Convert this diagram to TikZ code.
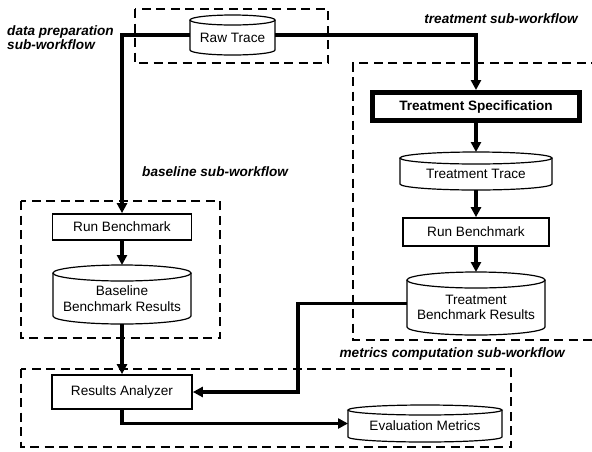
\documentclass[tikz,border=0pt]{standalone}
\usepackage{fontspec}
\setmainfont{Liberation Sans}
\usetikzlibrary{arrows.meta}
\tikzset{
  grp/.style={line width=2pt, dash pattern=on 9pt off 5.5pt},
  proc/.style={draw, line width=1.7pt, inner sep=0pt, font=\fontsize{13.6}{15.5}\selectfont},
  cylline/.style={line width=1.2pt},
  cylbox/.style={inner sep=0pt, outer sep=0pt},
  cyltext/.style={align=center, inner sep=0pt, font=\fontsize{13.6}{15.5}\selectfont},
  conn/.style={line width=3.3pt, -{Triangle[length=10pt,width=10pt]}},
  tag/.style={inner sep=0pt, align=left, font=\fontsize{13.6}{14.5}\selectfont\bfseries\itshape},
}
\newcommand\dbcyl[7]{%
  \pgfmathsetmacro\cylcx{(#2+#4)/2}%
  \pgfmathsetmacro\cylrx{(#4-#2)/2}%
  \pgfmathsetmacro\cylyt{#3+#6}%
  \pgfmathsetmacro\cylyb{#5-#6}%
  \pgfmathsetmacro\cylym{(#3+#5)/2}%
  \pgfmathsetmacro\cylyx{(#3+#5)/2+#6/2}%
  \pgfmathsetmacro\cylw{#4-#2}%
  \pgfmathsetmacro\cylh{#5-#3}%
  \draw[cylline] (#2,\cylyt) -- (#2,\cylyb) arc[start angle=180,end angle=360,x radius=\cylrx pt,y radius=#6pt] -- (#4,\cylyt);
  \draw[cylline] (\cylcx,\cylyt) ellipse[x radius=\cylrx pt,y radius=#6pt];
  \node[cylbox, minimum width=\cylw pt, minimum height=\cylh pt] (#1) at (\cylcx,\cylym) {};
  \node[cyltext] (#1-t) at (\cylcx,\cylyx) {#7};
}
\begin{document}
\begin{tikzpicture}[x=1pt,y=-1pt]
\useasboundingbox (0,0) rectangle (592,451);
% group boxes
\draw[grp] (135,9) rectangle (328,63);
\draw[grp] (600,63) -- (353,63) -- (353,340) -- (600,340);
\draw[grp] (21,201) rectangle (220,338);
\draw[grp] (21,369) rectangle (511,447);
% group labels
\node[tag, anchor=west] (lprep) at (7,37.5) {data preparation\\sub-workflow};
\node[tag, anchor=east] (ltreat) at (578,19) {treatment sub-workflow};
\node[tag, anchor=west] (lbase) at (142,172) {baseline sub-workflow};
\node[tag, anchor=east] (lmet) at (565,354) {metrics computation sub-workflow};
% stores
\dbcyl{rt}{190}{15}{275}{55}{5}{Raw Trace}
\dbcyl{tt}{400}{152}{552}{190}{6}{Treatment Trace}
\dbcyl{tres}{407}{272}{545}{335}{8}{Treatment\\Benchmark Results}
\dbcyl{brb}{53}{265}{191}{324}{8}{Baseline\\Benchmark Results}
\dbcyl{em}{348}{405}{502}{442}{5}{Evaluation Metrics}
% processes
\node[proc, line width=5pt, minimum width=207pt, minimum height=28pt, font=\fontsize{13.6}{15.5}\selectfont\bfseries] (ts) at (476,106.5) {Treatment Specification};
\node[proc, minimum width=146pt, minimum height=28pt] (trun) at (476,232) {Run Benchmark};
\node[proc, minimum width=139pt, minimum height=26pt] (brun) at (122,227) {Run Benchmark};
\node[proc, minimum width=140pt, minimum height=34pt] (ra) at (122,392) {Results Analyzer};
% connectors
\coordinate (j1) at (298,392);
\draw[conn] (rt.west) -| (brun.north);
\draw[conn] (rt.east) -| (ts.north);
\draw[conn] (ts.south) -- (tt.north);
\draw[conn] (tt.south) -- (trun.north);
\draw[conn] (trun.south) -- (tres.north);
\draw[conn] (brun.south) -- (brb.north);
\draw[conn] (brb.south) -- (ra.north);
\draw[conn] (tres.west) -| (j1) -- (ra.east);
\draw[conn] (ra.south) |- (em.west);
\end{tikzpicture}
\end{document}
